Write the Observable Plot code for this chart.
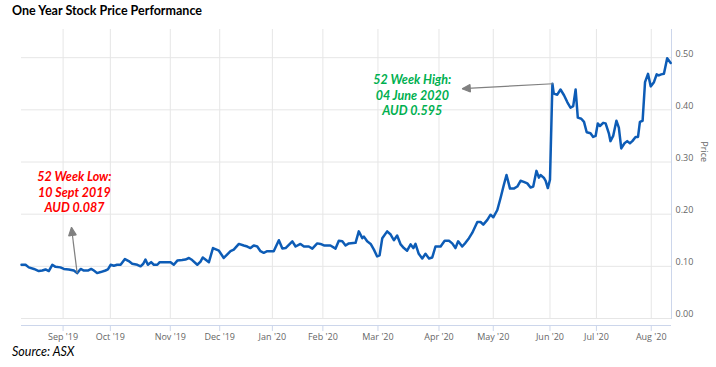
<!DOCTYPE html>
<html><head><meta charset="utf-8">
<script src="https://cdn.jsdelivr.net/npm/d3@7"></script>
<script src="https://cdn.jsdelivr.net/npm/@observablehq/plot@0.6"></script>
<style>
html,body{margin:0;padding:0;background:#fff}
body{width:716px;height:367px;overflow:hidden;font-family:Lato,"Open Sans",sans-serif}
#title{height:22px;line-height:22px;padding-left:12px;font-weight:bold;font-size:12.5px;color:#000}
#chart svg{display:block}
#src{height:25px;line-height:20px;padding-left:12px;font-style:italic;font-size:12.5px;color:#000}
</style></head>
<body>
<div id="title">One Year Stock Price Performance</div>
<div id="chart"></div>
<div id="src">Source: ASX</div>
<script>
// trading-session number (ordinal axis) and closing price (AUD)
const session = [0,1.5,2.7,4.6,6.4,7.7,8.9,10.1,11.4,12.6,14.4,15.7,17.5,19.4,20.6,21.9,23.1,24.6,25.8,26.8,28.0,29.3,31.1,32.0,33.0,34.2,35.4,36.7,38.3,39.7,41.0,42.9,44.1,45.1,45.9,46.8,48.0,49.0,50.3,51.2,53.3,55.2,56.4,57.7,59.5,60.7,62.0,63.2,65.1,66.3,67.1,68.1,69.4,70.9,73.1,74.9,77.4,78.6,80.5,82.3,83.6,84.8,86.0,87.3,88.5,89.7,91.0,93.4,95.3,96.6,97.8,100.3,101.5,103.3,104.6,106.4,107.7,109.5,110.7,112.0,114.4,116.3,117.5,118.8,120.0,121.2,123.7,124.9,126.2,126.8,128.0,129.3,130.5,131.7,132.6,133.6,135.4,136.7,137.9,139.1,140.4,141.6,142.8,144.1,145.1,145.9,147.1,148.4,149.6,150.9,152.1,153.3,155.2,156.7,158.3,159.5,160.7,161.7,163.2,164.4,165.7,166.9,168.8,170.0,171.0,172.5,173.7,174.7,176.2,177.4,178.6,179.6,180.9,182.3,183.6,184.8,186.0,187.3,188.5,189.5,190.7,191.6,192.2,193.4,194.1,194.9,195.7,196.6,197.1,198.4,199.6,200.9,202.1,203.3,204.3,205.2,206.0,207.3,208.3,209.3,210.7,211.7,212.6,213.4,214.2,215.4,216.3,217.5,218.1,219.1,220.3,221.2,222.1,223.3,224.3,225.3,226.2,227.4,228.3,229.0,230.0,230.9,232.0,233.0,234.2,235.2,236.0,236.9,237.9,239.1,240.4];
const price = [0.103,0.103,0.098,0.095,0.091,0.092,0.094,0.091,0.103,0.099,0.098,0.095,0.094,0.092,0.087,0.095,0.092,0.092,0.095,0.092,0.087,0.089,0.092,0.094,0.103,0.101,0.103,0.103,0.114,0.110,0.105,0.103,0.100,0.105,0.113,0.103,0.108,0.103,0.103,0.108,0.108,0.108,0.103,0.111,0.112,0.113,0.116,0.112,0.103,0.109,0.117,0.113,0.108,0.135,0.130,0.116,0.129,0.132,0.143,0.140,0.138,0.135,0.140,0.138,0.129,0.126,0.129,0.129,0.150,0.134,0.135,0.148,0.138,0.143,0.138,0.138,0.134,0.144,0.143,0.140,0.140,0.134,0.149,0.148,0.140,0.144,0.145,0.167,0.154,0.157,0.148,0.143,0.132,0.119,0.121,0.154,0.167,0.161,0.150,0.159,0.142,0.135,0.130,0.142,0.135,0.143,0.124,0.115,0.124,0.115,0.117,0.138,0.138,0.149,0.149,0.144,0.135,0.148,0.138,0.145,0.154,0.164,0.185,0.185,0.180,0.189,0.199,0.194,0.208,0.231,0.256,0.275,0.249,0.249,0.253,0.264,0.262,0.259,0.251,0.253,0.283,0.270,0.275,0.270,0.264,0.250,0.266,0.450,0.431,0.429,0.439,0.428,0.415,0.404,0.407,0.439,0.385,0.383,0.377,0.357,0.355,0.348,0.350,0.374,0.369,0.375,0.374,0.355,0.340,0.350,0.379,0.366,0.326,0.336,0.340,0.336,0.340,0.348,0.348,0.377,0.379,0.453,0.469,0.445,0.453,0.468,0.466,0.468,0.469,0.499,0.490];

const tickSession = [15.4,32.9,55.1,73.4,92.9,111.6,132.0,154.6,174.7,195.7,212.9,233.2];
const tickLabel = ["Sep '19","Oct '19","Nov '19","Dec '19","Jan '20","Feb '20","Mar '20","Apr '20","May '20","Jun '20","Jul '20","Aug '20"];
const yTicks = [0, 0.1, 0.2, 0.3, 0.4, 0.5];

// annotations
const noteText = ["52 Week Low:\n10 Sept 2019\nAUD 0.087", "52 Week High:\n04 June 2020\nAUD 0.595"];
const noteSession = [19.6, 144.7];
const notePrice = [0.2433, 0.429];
const noteColor = ["#ff0000", "#00b050"];
const arrowFrom = [[20.6, 0.087], [196.8, 0.450]];
const arrowTo = [[18.5, 0.1746], [163.2, 0.4405]];

const data = session.map((s, i) => ({s, p: price[i]}));
const notes = noteText.map((t, i) => ({t, x: noteSession[i], y: notePrice[i], c: noteColor[i]}));
const arrows = arrowFrom.map((f, i) => ({x1: f[0], y1: f[1], x2: arrowTo[i][0], y2: arrowTo[i][1]}));
const labelOf = new Map(tickSession.map((s, i) => [s, tickLabel[i]]));

function triangleMarker(color, context) {
  const ns = "http://www.w3.org/2000/svg";
  const doc = (context && context.document) || document;
  const m = doc.createElementNS(ns, "marker");
  m.setAttribute("viewBox", "-9 -5 10 10");
  m.setAttribute("markerUnits", "userSpaceOnUse");
  m.setAttribute("markerWidth", "10");
  m.setAttribute("markerHeight", "10");
  m.setAttribute("orient", "auto");
  m.setAttribute("fill", color);
  const p = doc.createElementNS(ns, "path");
  p.setAttribute("d", "M-8,-3.8L0,0L-8,3.8Z");
  m.appendChild(p);
  return m;
}

const chart = Plot.plot({
  width: 716, height: 320,
  marginLeft: 21, marginRight: 45, marginTop: 7, marginBottom: 24,
  style: {fontFamily: "'Open Sans', sans-serif", background: "#fff"},
  x: {domain: [0, 240.7], axis: null},
  y: {domain: [0, 0.554], axis: null},
  marks: [
    Plot.gridY(yTicks, {stroke: "#e6e6e6", strokeOpacity: 1}),
    Plot.gridX(tickSession, {stroke: "#e6e6e6", strokeOpacity: 1}),
    Plot.frame({anchor: "right", stroke: "#ccd6eb"}),
    Plot.ruleY([0], {dy: 7, stroke: "#ccd6eb"}),
    Plot.axisX(tickSession, {anchor: "bottom", dy: 7, tickSize: 6, tickPadding: 2, stroke: "#ccd6eb", fill: "#666", fontSize: 9, tickFormat: d => labelOf.get(d), label: null}),
    Plot.axisY(yTicks, {anchor: "right", tickSize: 0, tickPadding: 4, textAnchor: "start", dy: -4, fill: "#666", fontSize: 9, tickFormat: d => d.toFixed(2), label: null}),
    Plot.text(["Price"], {frameAnchor: "right", dx: 32, dy: -12, rotate: 90, fill: "#666", fontSize: 9}),
    Plot.line(data, {x: "s", y: "p", stroke: "#0d5cb6", strokeWidth: 2.5, strokeLinejoin: "round"}),
    Plot.link(arrows, {x1: "x1", y1: "y1", x2: "x2", y2: "y2", stroke: "#808080", strokeWidth: 1.2, markerEnd: triangleMarker}),
    Plot.text(notes, {x: "x", y: "y", text: "t", fill: "c", fontSize: 12.5, fontWeight: "bold", fontStyle: "italic", lineHeight: 1.25, lineAnchor: "middle", fontFamily: "Lato, sans-serif"})
  ]
});
document.getElementById("chart").appendChild(chart);
</script>
</body></html>
